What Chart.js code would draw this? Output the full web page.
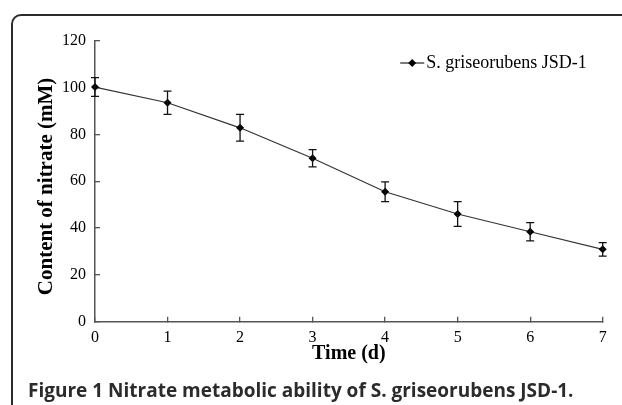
<!DOCTYPE html>
<html lang="en">
<head>
<meta charset="UTF-8">
<title>Nitrate metabolic ability</title>
<script src="https://cdn.jsdelivr.net/npm/chart.js"></script>
<style>
  body { margin: 0; background: #fff; width: 622px; height: 405px; overflow: hidden; position: relative; }
  .frame { position: absolute; left: 11px; top: 14px; width: 700px; height: 500px; border: 2px solid #2b2b2b; border-radius: 10px; }
  #chart { position: absolute; left: 0; top: 0; width: 622px; height: 405px; }
  .caption { position: absolute; left: 28px; top: 381px; font: bold 19px/19px "Open Sans", sans-serif; color: #2b2b2b; white-space: nowrap; }
</style>
</head>
<body>
<div class="frame"></div>
<canvas id="chart" width="622" height="405"></canvas>
<div class="caption" id="caption">Figure 1 Nitrate metabolic ability of S. griseorubens JSD-1.</div>
<script>
const days = ['0', '1', '2', '3', '4', '5', '6', '7'];
const nitrate = [100.2, 93.5, 82.8, 69.8, 55.5, 46.0, 38.4, 30.9];   // mM
const nitrateErr = [4.0, 5.0, 5.7, 3.7, 4.2, 5.3, 3.9, 2.9];
const seriesName = 'S. griseorubens JSD-1';
const yMin = 0, yMax = 120, yStep = 20;

const serif = '"Liberation Serif", "Times New Roman", serif';
const axisColor = '#555';

function diamond(ctx, x, y, r) {
    ctx.beginPath();
    ctx.moveTo(x, y - r); ctx.lineTo(x + r, y); ctx.lineTo(x, y + r); ctx.lineTo(x - r, y);
    ctx.closePath();
    ctx.fill();
}

const errorBars = {
    id: 'errorBars',
    afterDatasetsDraw(chart) {
        const ctx = chart.ctx;
        const x = chart.scales.x, y = chart.scales.y;
        ctx.save();
        ctx.strokeStyle = '#111';
        ctx.lineWidth = 1.3;
        nitrate.forEach((v, i) => {
            const px = x.getPixelForValue(i);
            const top = y.getPixelForValue(v + nitrateErr[i]);
            const bot = y.getPixelForValue(v - nitrateErr[i]);
            ctx.beginPath();
            ctx.moveTo(px, top); ctx.lineTo(px, bot);
            ctx.moveTo(px - 4, top); ctx.lineTo(px + 4, top);
            ctx.moveTo(px - 4, bot); ctx.lineTo(px + 4, bot);
            ctx.stroke();
        });
        ctx.restore();
    }
};

// legend in the top right corner of the plot: line + diamond, then the name
const lineLegend = {
    id: 'lineLegend',
    afterDraw(chart) {
        const ctx = chart.ctx;
        const area = chart.chartArea;
        ctx.save();
        ctx.font = '18px ' + serif;
        const w = ctx.measureText(seriesName).width;
        const tx = area.right - 16 - w;
        const ty = area.top + 22.3;
        ctx.strokeStyle = '#222';
        ctx.lineWidth = 1.2;
        ctx.beginPath(); ctx.moveTo(tx - 26, ty); ctx.lineTo(tx - 2, ty); ctx.stroke();
        ctx.fillStyle = '#000';
        diamond(ctx, tx - 14, ty, 4);
        ctx.textAlign = 'left';
        ctx.textBaseline = 'middle';
        ctx.fillText(seriesName, tx, ty);
        ctx.restore();
    }
};

new Chart(document.getElementById('chart'), {
    type: 'line',
    data: {
        labels: days,
        datasets: [{
            label: seriesName,
            data: nitrate,
            borderColor: '#333',
            borderWidth: 1.2,
            tension: 0,
            pointStyle: 'rectRot',
            pointRadius: 4,
            pointBackgroundColor: '#000',
            pointBorderWidth: 0,
            clip: false
        }]
    },
    options: {
        responsive: false,
        animation: false,
        layout: { padding: { left: 20, right: 19.3, top: 40.7, bottom: 38.3 } },
        plugins: {
            tooltip: { enabled: false },
            legend: { display: false }
        },
        scales: {
            x: {
                offset: false,
                grid: { display: true, drawOnChartArea: false, drawTicks: true, tickLength: -5, color: axisColor, lineWidth: 1.3 },
                border: { display: true, color: axisColor, width: 1.5 },
                ticks: { color: '#000', font: { family: serif, size: 16 }, padding: 11, maxRotation: 0, autoSkip: false },
                title: { display: true, text: 'Time (d)', color: '#000', font: { family: serif, size: 20, weight: 'bold' }, padding: { top: 0, bottom: 1 } },
                afterFit: s => { s.height = 45; }
            },
            y: {
                min: yMin,
                max: yMax,
                grid: { display: true, drawOnChartArea: false, drawTicks: true, tickLength: -5, color: axisColor, lineWidth: 1.3 },
                border: { display: true, color: axisColor, width: 1.5 },
                ticks: { stepSize: yStep, color: '#000', font: { family: serif, size: 16 }, padding: 14 },
                title: { display: true, text: 'Content of nitrate (mM)  ', color: '#000', font: { family: serif, size: 21, weight: 'bold' }, padding: { top: 14, bottom: 0 } },
                afterFit: s => { s.width = 75; }
            }
        }
    },
    plugins: [errorBars, lineLegend]
});
</script>
</body>
</html>
